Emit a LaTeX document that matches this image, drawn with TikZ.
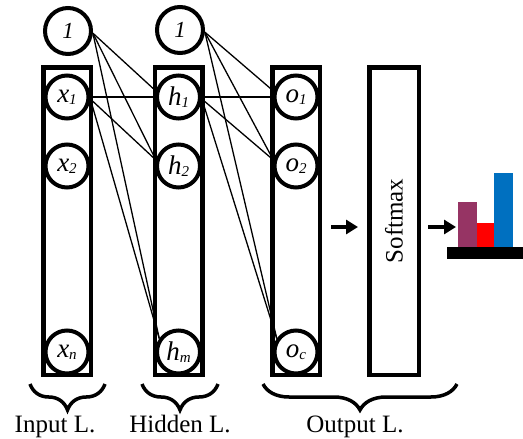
\documentclass[tikz,border=0pt]{standalone}
\usepackage{fontspec}
\setmainfont{Liberation Serif}
\usetikzlibrary{arrows.meta,decorations.pathreplacing}
\definecolor{barpurple}{HTML}{963464}
\definecolor{barred}{HTML}{FF0000}
\definecolor{barblue}{HTML}{0070C0}
\newcommand\sbs[1]{\raisebox{-2pt}{\fontsize{15}{15}\selectfont #1}}
\begin{document}
\begin{tikzpicture}[x=1pt,y=-1pt,
 biasnode/.style={circle,draw,line width=4pt,minimum size=46pt,inner sep=0pt,fill=white,font=\fontsize{23}{23}\selectfont\itshape},
 unit/.style={circle,draw,line width=4pt,minimum size=43pt,inner sep=0pt,fill=white,font=\fontsize{27}{27}\selectfont\itshape},
 column/.style={draw,line width=4.5pt,minimum width=47.5pt,minimum height=307.5pt,inner sep=0pt},
 conn/.style={line width=1.3pt},
 flow/.style={line width=4.5pt,-{Triangle[length=12pt,width=14pt]}},
 lbrace/.style={decorate,decoration={brace,amplitude=26pt,aspect=0.5},line width=3.5pt},
 layerlabel/.style={font=\fontsize{25}{25}\selectfont,anchor=base}
]
\useasboundingbox (0,0) rectangle (523,439);
% columns
\node[column] (incol) at (67,221) {};
\node[column] (hidcol) at (178.5,221) {};
\node[column] (outcol) at (296,221) {};
\node[column,minimum width=49.5pt] (smcol) at (394,221) {};
\node[rotate=90,font=\fontsize{25}{25}\selectfont] (smtext) at (394,221) {Softmax};
% bias nodes
\node[biasnode] (b1) at (68,31) {1};
\node[biasnode] (b2) at (180,30) {1};
% units
\node[unit] (x1) at (67,97) {x\sbs{1}};
\node[unit] (x2) at (67,166) {x\sbs{2}};
\node[unit] (xn) at (67,352) {x\sbs{n}};
\node[unit] (h1) at (178.5,97) {h\sbs{1}};
\node[unit] (h2) at (178.5,166) {h\sbs{2}};
\node[unit] (hm) at (178.5,352) {h\sbs{m}};
\node[unit] (o1) at (296,97) {o\sbs{1}};
\node[unit] (o2) at (296,166) {o\sbs{2}};
\node[unit] (oc) at (296,352) {o\sbs{c}};
% connections input -> hidden
\draw[conn] (b1.-5) -- (h1.165);
\draw[conn] (b1.-5) -- (h2.165);
\draw[conn] (b1.-5) -- (hm.145);
\draw[conn] (x1.0) -- (h1.180);
\draw[conn] (x1.-5) -- (h2.165);
\draw[conn] (x1.-5) -- (hm.145);
% hidden -> output
\draw[conn] (b2.-5) -- (o1.165);
\draw[conn] (b2.-5) -- (o2.165);
\draw[conn] (b2.-5) -- (oc.145);
\draw[conn] (h1.0) -- (o1.180);
\draw[conn] (h1.-5) -- (o2.165);
\draw[conn] (h1.-5) -- (oc.145);
% flow arrows
\coordinate (f1s) at (331,227);
\coordinate (f1e) at (358,227);
\coordinate (f2s) at (428,227);
\coordinate (f2e) at (456,227);
\draw[flow] (f1s) -- (f1e);
\draw[flow] (f2s) -- (f2e);
% bar chart
\fill[barpurple] (458,202) rectangle (477,247);
\fill[barred] (477,223) rectangle (494,247);
\fill[barblue] (494,173) rectangle (513,247);
\fill[black] (447,247) rectangle (523,259);
% braces
\coordinate (bi1) at (105,384);
\coordinate (bi2) at (30,384);
\coordinate (bh1) at (218,384);
\coordinate (bh2) at (142,384);
\coordinate (bo1) at (457,384);
\coordinate (bo2) at (263,384);
\draw[lbrace] (bi1) -- (bi2);
\draw[lbrace] (bh1) -- (bh2);
\draw[lbrace] (bo1) -- (bo2);
% labels
\node[layerlabel] (linput) at (55,432) {Input L.};
\node[layerlabel] (lhidden) at (180,432) {Hidden L.};
\node[layerlabel] (loutput) at (355,432) {Output L.};
\end{tikzpicture}
\end{document}
